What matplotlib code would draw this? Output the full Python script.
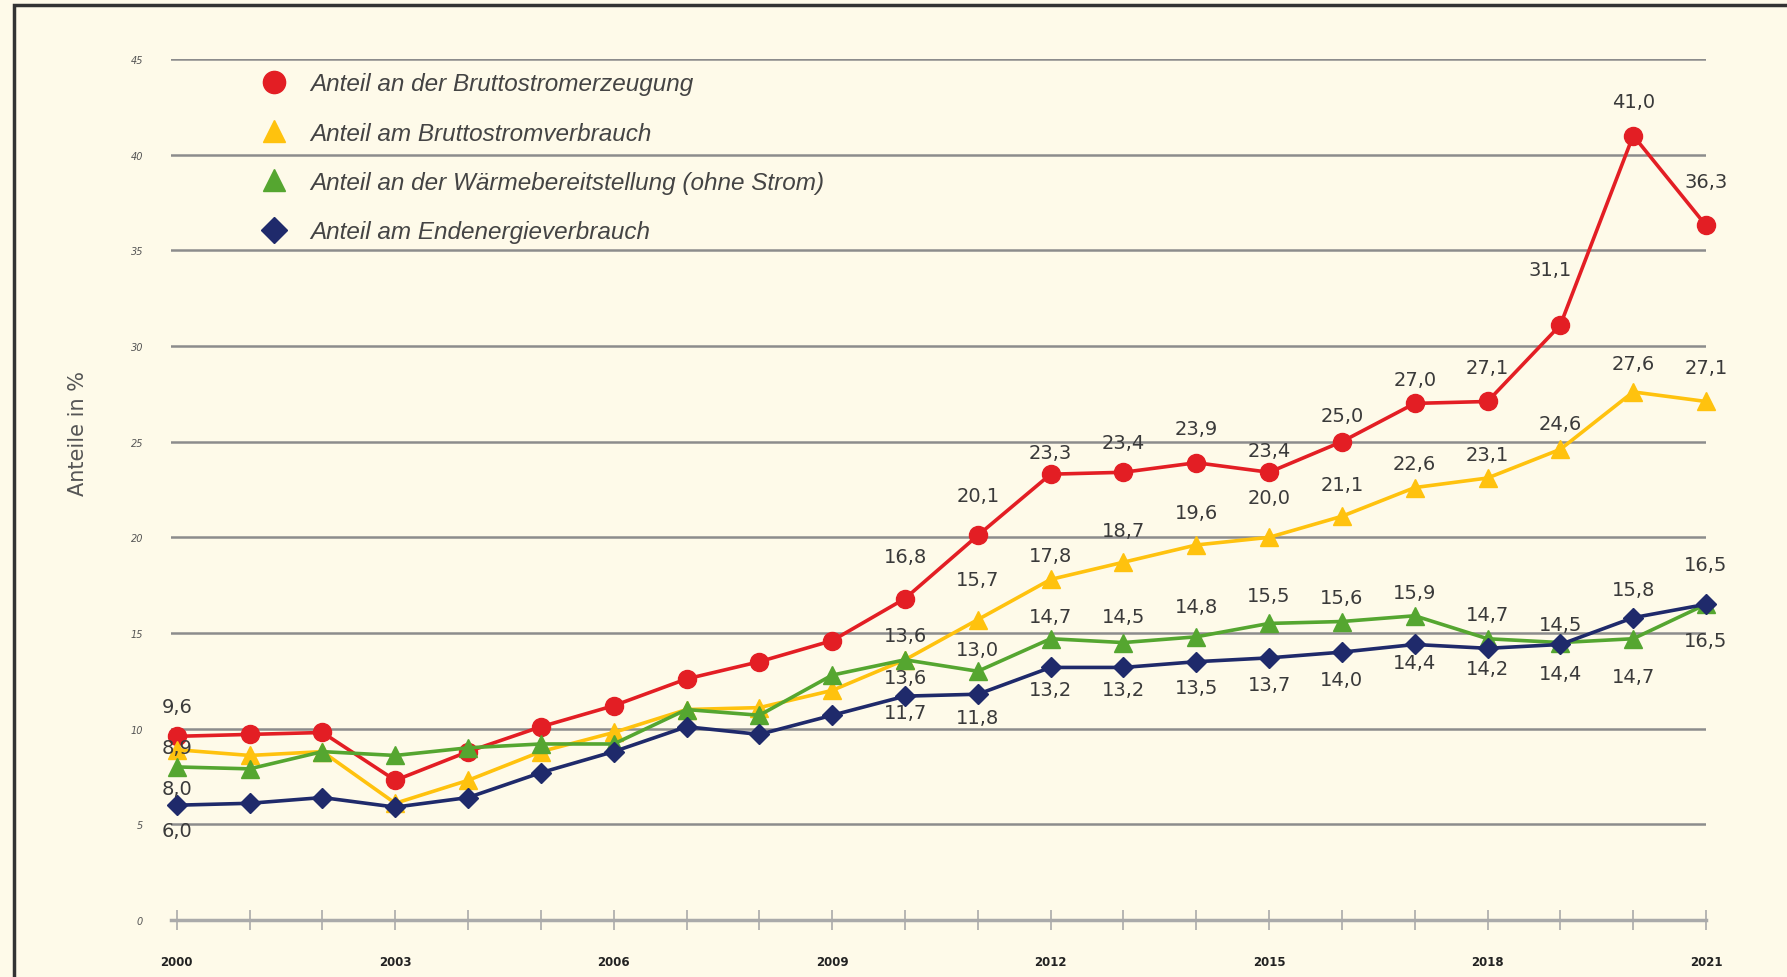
import matplotlib
matplotlib.use("Agg")
import matplotlib.pyplot as plt
from matplotlib.lines import Line2D
from matplotlib.patches import Rectangle

YEARS = list(range(2000, 2022))

# Anteil an der Bruttostromerzeugung
strom_erz = [9.6, 9.7, 9.8, 7.3, 8.8, 10.1, 11.2, 12.6, 13.5, 14.6, 16.8, 20.1,
             23.3, 23.4, 23.9, 23.4, 25.0, 27.0, 27.1, 31.1, 41.0, 36.3]
# Anteil am Bruttostromverbrauch
strom_verb = [8.9, 8.6, 8.8, 6.1, 7.3, 8.8, 9.8, 11.0, 11.1, 12.0, 13.6, 15.7,
              17.8, 18.7, 19.6, 20.0, 21.1, 22.6, 23.1, 24.6, 27.6, 27.1]
# Anteil an der Waermebereitstellung (ohne Strom)
waerme = [8.0, 7.9, 8.8, 8.6, 9.0, 9.2, 9.2, 11.0, 10.7, 12.8, 13.6, 13.0,
          14.7, 14.5, 14.8, 15.5, 15.6, 15.9, 14.7, 14.5, 14.7, 16.5]
# Anteil am Endenergieverbrauch
endenergie = [6.0, 6.1, 6.4, 5.9, 6.4, 7.7, 8.8, 10.1, 9.7, 10.7, 11.7, 11.8,
              13.2, 13.2, 13.5, 13.7, 14.0, 14.4, 14.2, 14.4, 15.8, 16.5]

LABELS = ["Anteil an der Bruttostromerzeugung",
          "Anteil am Bruttostromverbrauch",
          "Anteil an der Wärmebereitstellung (ohne Strom)",
          "Anteil am Endenergieverbrauch"]
YTICKS = [0, 5, 10, 15, 20, 25, 30, 35, 40, 45]
XTICK_YEARS = [2000, 2003, 2006, 2009, 2012, 2015, 2018, 2021]

# which years get a value label, with offset in pixels (dx, dy)
red_lab = {2000: (0, 30), 2010: (0, 42), 2011: (0, 40), 2012: (0, 22), 2013: (0, 30),
           2014: (0, 34), 2015: (0, 22), 2016: (0, 26), 2017: (0, 24), 2018: (0, 34),
           2019: (-10, 55), 2020: (0, 34), 2021: (0, 44)}
yel_lab = {2000: (0, 2), 2010: (0, -18), 2011: (0, 40), 2012: (0, 24), 2013: (0, 32),
           2014: (0, 32), 2015: (0, 40), 2016: (0, 32), 2017: (0, 24), 2018: (0, 24),
           2019: (0, 26), 2020: (0, 28), 2021: (0, 34)}
grn_lab = {2000: (0, -22), 2010: (0, 24), 2011: (0, 22), 2012: (0, 22), 2013: (0, 26),
           2014: (0, 30), 2015: (0, 28), 2016: (0, 24), 2017: (0, 23), 2018: (0, 24),
           2019: (0, 18), 2020: (0, -38), 2021: (0, -36)}
blu_lab = {2000: (0, -25), 2010: (0, -16), 2011: (0, -23), 2012: (0, -22), 2013: (0, -22),
           2014: (0, -26), 2015: (0, -27), 2016: (0, -27), 2017: (0, -18), 2018: (0, -20),
           2019: (0, -29), 2020: (0, 28), 2021: (0, 40)}

BG = "#fefae9"
COLORS = ["#e31e24", "#ffc20e", "#55a630", "#1f2a6b"]
MARKERS = ["o", "^", "^", "D"]
MSIZE = [13, 13, 13, 10]

fig = plt.figure(figsize=(17.87, 9.78), dpi=100, facecolor=BG)
ax = fig.add_axes([171 / 1787, 1 - 921 / 978, (1706 - 171) / 1787, (921 - 60) / 978])
ax.set_facecolor(BG)

# frame around the chart (top and left visible)
fig.patches.append(Rectangle((14 / 1787, -0.2), 1.2, 1.2 - 6 / 978,
                             transform=fig.transFigure, fill=False,
                             edgecolor="#333333", lw=2.5))

for yv in YTICKS[1:]:
    ax.axhline(yv, color="#8c8c8c", lw=1.8, zorder=1)

series = [strom_erz, strom_verb, waerme, endenergie]
labsets = [red_lab, yel_lab, grn_lab, blu_lab]
for vals, col, mk, ms, lab in zip(series, COLORS, MARKERS, MSIZE, labsets):
    ax.plot(YEARS, vals, color=col, lw=2.6, marker=mk, markersize=ms,
            clip_on=False, zorder=3)
    for yr, (dx, dy) in lab.items():
        v = vals[YEARS.index(yr)]
        ax.annotate(f"{v:.1f}".replace(".", ","), (yr, v), xytext=(dx, dy),
                    textcoords="offset pixels", ha="center", va="center",
                    fontsize=14, color="#3a3a3a", zorder=5)

ax.set_xlim(1999.92, 2021)
ax.set_ylim(0, 45)
for s in ["top", "right", "left"]:
    ax.spines[s].set_visible(False)
ax.spines["bottom"].set_color("#aaaaaa")
ax.spines["bottom"].set_linewidth(2.5)

ax.set_xticks(YEARS)
ax.set_xticklabels([str(y) if y in XTICK_YEARS else "" for y in YEARS],
                   fontsize=8.5, fontweight="bold", color="#222222")
ax.tick_params(axis="x", direction="inout", length=14, width=1.2, color="#aaaaaa", pad=18)
ax.set_yticks(YTICKS)
ax.set_yticklabels([str(y) for y in YTICKS], fontsize=7, style="italic", color="#555555")
ax.tick_params(axis="y", length=0, pad=20)

fig.text(78 / 1787, 1 - 433 / 978, "Anteile in %", rotation=90, ha="center",
         va="center", fontsize=15, color="#555555")

handles = [Line2D([], [], color=c, marker=m, linestyle="none", markersize=s + 3)
           for c, m, s in zip(COLORS, MARKERS, MSIZE)]
leg = ax.legend(handles, LABELS, loc="upper left", bbox_to_anchor=(0.037, 1.01),
                frameon=False, labelspacing=1.08, handletextpad=0.5,
                prop={"family": "Liberation Sans", "style": "italic", "size": 17.5})
for t in leg.get_texts():
    t.set_color("#444444")

fig.savefig("out.png", dpi=100, facecolor=BG)
